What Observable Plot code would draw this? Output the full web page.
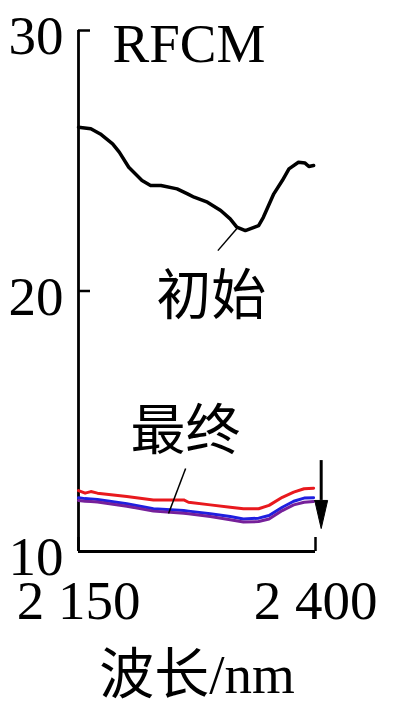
<!DOCTYPE html>
<html>
<head>
<meta charset="utf-8">
<script src="https://cdn.jsdelivr.net/npm/d3@7"></script>
<script src="https://cdn.jsdelivr.net/npm/@observablehq/plot@0.6"></script>
<style>
  html, body { margin: 0; padding: 0; background: #fff; }
</style>
</head>
<body>
<div id="chart"></div>
<script>
// ---- data ----
const title = "RFCM";
const xLabel = "波长/nm";
const xTicks = [2150, 2400];
const yTicks = [10, 20, 30];

const initialWavelength = [2150, 2163, 2173, 2186, 2193, 2203, 2217, 2226, 2237, 2254, 2265, 2272, 2286, 2300, 2310, 2317, 2326, 2340, 2345, 2356, 2365, 2372, 2382, 2389, 2393, 2398];
const initialValue = [26.29, 26.23, 26.03, 25.65, 25.33, 24.75, 24.24, 24.05, 24.05, 23.92, 23.73, 23.60, 23.41, 23.09, 22.77, 22.45, 22.32, 22.51, 22.83, 23.73, 24.24, 24.69, 24.94, 24.91, 24.78, 24.82];

const finalWavelength = [2150, 2157, 2163, 2170, 2201, 2229, 2261, 2266, 2289, 2310, 2324, 2340, 2351, 2365, 2377, 2388, 2398];
const finalRed    = [12.34, 12.24, 12.30, 12.24, 12.11, 11.98, 11.98, 11.89, 11.79, 11.70, 11.64, 11.64, 11.77, 12.08, 12.28, 12.41, 12.43];
const finalBlue   = [12.06, 12.03, 12.02, 12.00, 11.83, 11.64, 11.57, 11.55, 11.45, 11.34, 11.25, 11.28, 11.38, 11.70, 11.93, 12.05, 12.06];
const finalPurple = [11.96, 11.93, 11.92, 11.90, 11.74, 11.55, 11.47, 11.45, 11.34, 11.22, 11.13, 11.15, 11.25, 11.57, 11.79, 11.89, 11.92];

const labelInitial = "初始";
const labelFinal = "最终";

// annotation anchors (data units)
const labelInitialPos = {x: 2290, y: 19.8};
const labelFinalPos = {x: 2263, y: 14.6};
const leaderInitial = {x1: 2318, y1: 22.44, x2: 2297, y2: 21.55};
const leaderFinal = {x1: 2263, y1: 13.19, x2: 2245, y2: 11.46};
const arrowX = 2406;
const arrowTop = 13.49, arrowBase = 11.96, arrowTip = 10.88, arrowHalfWidth = 6.8;

// ---- build tables ----
const initial = initialWavelength.map((x, i) => ({x, y: initialValue[i]}));
const finals = [
  ["red", finalRed, "#e8191e"],
  ["blue", finalBlue, "#1f1fe0"],
  ["purple", finalPurple, "#76209a"]
].flatMap(([s, vals, c]) => finalWavelength.map((x, i) => ({series: s, x, y: vals[i], color: c})));
const arrowHead = [
  {x: arrowX - arrowHalfWidth, y: arrowBase},
  {x: arrowX + arrowHalfWidth, y: arrowBase},
  {x: arrowX, y: arrowTip},
  {x: arrowX - arrowHalfWidth, y: arrowBase}
];

const fontFamily = "'Liberation Serif', 'Times New Roman', 'Noto Sans CJK SC', serif";
const fs = 55;

const chart = Plot.plot({
  width: 394,
  height: 717,
  marginLeft: 78,
  marginRight: 79,
  marginTop: 30,
  marginBottom: 166,
  style: {fontFamily, fontSize: fs + "px", color: "#000", background: "#fff", overflow: "visible"},
  x: {domain: [2150, 2400]},
  y: {domain: [10, 30]},
  marks: [
    Plot.axisY(yTicks, {tickSize: 0, tickPadding: 15, fontSize: fs, dy: 6, label: null}),
    Plot.axisX(xTicks, {tickSize: 0, tickPadding: 28, fontSize: fs, label: null,
      tickFormat: d => `${Math.floor(d / 1000)} ${String(d % 1000).padStart(3, "0")}`}),
    Plot.tickY(yTicks, {y: d => d, insetRight: 225, strokeWidth: 2.5, stroke: "#000"}),
    Plot.tickX(xTicks, {x: d => d, insetTop: 507, strokeWidth: 2.5, stroke: "#000"}),
    Plot.ruleX([2150], {strokeWidth: 2.8, stroke: "#000"}),
    Plot.ruleY([10], {strokeWidth: 2.8, stroke: "#000"}),
    Plot.line(finals, {x: "x", y: "y", z: "series", stroke: "color", strokeWidth: 3, curve: "linear"}),
    Plot.line(initial, {x: "x", y: "y", stroke: "#000", strokeWidth: 3.5}),
    Plot.link([leaderInitial, leaderFinal], {x1: "x1", y1: "y1", x2: "x2", y2: "y2", stroke: "#000", strokeWidth: 1.5}),
    Plot.text([labelInitial], {x: labelInitialPos.x, y: labelInitialPos.y, text: d => d, fontSize: fs, fill: "#000"}),
    Plot.text([labelFinal], {x: labelFinalPos.x, y: labelFinalPos.y, text: d => d, fontSize: fs, fill: "#000"}),
    Plot.text([title], {frameAnchor: "top-left", dx: 34, dy: 14, text: d => d, fontSize: fs, textAnchor: "start", lineAnchor: "middle", fill: "#000"}),
    Plot.text([xLabel], {frameAnchor: "bottom", dy: 124, text: d => d, fontSize: fs, lineAnchor: "middle", fill: "#000"}),
    Plot.ruleX([arrowX], {y1: arrowTop, y2: arrowBase, stroke: "#000", strokeWidth: 3}),
    Plot.line(arrowHead, {x: "x", y: "y", fill: "#000", stroke: "#000", strokeWidth: 1})
  ]
});
document.getElementById("chart").appendChild(chart);
</script>
</body>
</html>
